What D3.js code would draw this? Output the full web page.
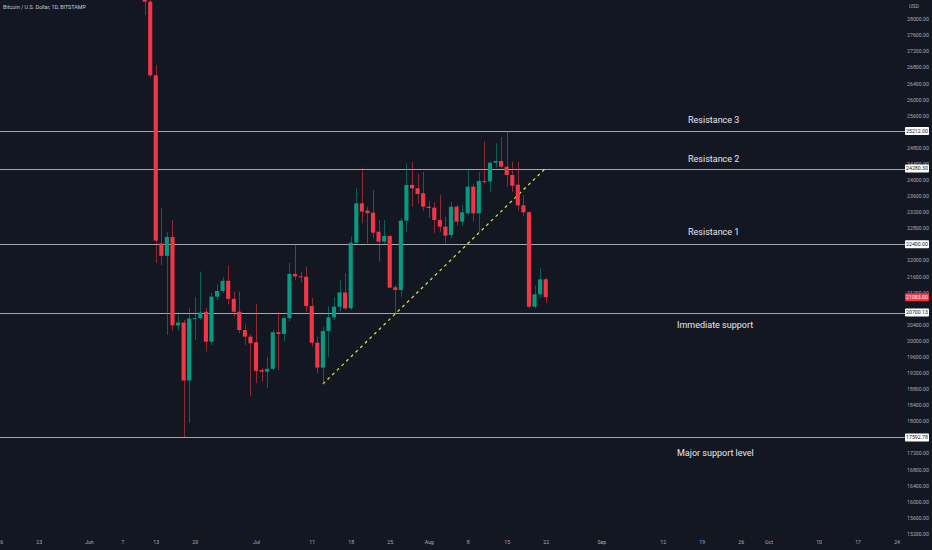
<!DOCTYPE html>
<html>
<head>
<meta charset="utf-8">
<script src="https://d3js.org/d3.v7.min.js"></script>
<style>
  html, body { margin: 0; padding: 0; background: #131722; overflow: hidden; }
  svg { display: block; }
  .tick text { font-family: Roboto, "Noto Sans", sans-serif; }
</style>
</head>
<body>
<div id="chart"></div>
<script>

// daily candles, Bitstamp BTC/USD
const dates = [
  "2022-06-11","2022-06-12","2022-06-13","2022-06-14","2022-06-15","2022-06-16","2022-06-17","2022-06-18",
  "2022-06-19","2022-06-20","2022-06-21","2022-06-22","2022-06-23","2022-06-24","2022-06-25","2022-06-26",
  "2022-06-27","2022-06-28","2022-06-29","2022-06-30","2022-07-01","2022-07-02","2022-07-03","2022-07-04",
  "2022-07-05","2022-07-06","2022-07-07","2022-07-08","2022-07-09","2022-07-10","2022-07-11","2022-07-12",
  "2022-07-13","2022-07-14","2022-07-15","2022-07-16","2022-07-17","2022-07-18","2022-07-19","2022-07-20",
  "2022-07-21","2022-07-22","2022-07-23","2022-07-24","2022-07-25","2022-07-26","2022-07-27","2022-07-28",
  "2022-07-29","2022-07-30","2022-07-31","2022-08-01","2022-08-02","2022-08-03","2022-08-04","2022-08-05",
  "2022-08-06","2022-08-07","2022-08-08","2022-08-09","2022-08-10","2022-08-11","2022-08-12","2022-08-13",
  "2022-08-14","2022-08-15","2022-08-16","2022-08-17","2022-08-18","2022-08-19","2022-08-20","2022-08-21",
  "2022-08-22"
];
const open = [
  29080,28430,26600,22420,22110,22580,20380,20450, 19010,20550,20560,20720,19975,21095,21236,21490,
  21040,20720,20266,20100,19960,19270,19230,19300, 20210,20170,20560,21660,21600,21590,20860,19950,
  19330,20240,20580,20845,21200,20806,22437,23417, 23234,23184,22710,22462,22604,21328,21261,22984,
  23873,23790,23666,23333,23308,23002,22836,22629, 23333,22960,23168,23830,23168,23972,23960,24427,
  24468,24327,24120,23879,23365,23193,20845,21154, 21527
];
const high = [
  29440,28550,26860,23300,22700,23000,20720,20520, 20810,21090,21720,20810,21190,21400,21590,21870,
  21220,21220,20400,20150,20910,19320,19600,20270, 20720,20600,21930,22380,21720,21840,21060,20100,
  20350,20850,21090,21510,21680,22590,23790,24310, 23330,23740,23000,23000,22630,21385,23045,24410,
  24450,24160,24200,23480,23450,23620,23080,23460, 23380,23380,24245,23900,24200,24950,24450,24910,
  25070,25212,24450,24450,23620,23220,21380,21800, 21560
];
const low = [
  28100,26560,21930,21880,20140,20250,20250,17600, 17950,20020,20520,19730,19890,21000,21190,20900,
  20600,20190,19890,18630,18940,18980,18820,19270, 19270,19975,20480,21500,21450,20720,19850,19190,
  18920,19600,20515,20720,20760,20760,22420,22920, 22420,22550,21965,22400,21300,20680,21094,22710,
  23330,23420,23220,23050,22680,22710,22420,22550, 22860,22850,23127,22960,22710,23900,23700,24300,
  24250,23830,23700,23230,23100,20800,20800,21070, 20930
];
const close = [
  28430,26600,22490,22110,22580,20380,20450,19010, 20550,20560,20700,19975,21095,21236,21490,21040,
  20720,20266,20100,19935,19250,19230,19300,20210, 20170,20560,21660,21600,21590,20860,19950,19330,
  20240,20580,20845,21200,20806,22437,23417,23210, 23170,22686,22462,22604,21318,21261,22984,23873,
  23790,23648,23333,23300,23002,22836,22612,23333, 22960,23193,23830,23168,23972,23960,24427,24468,
  24327,24120,23854,23365,23193,20845,21154,21527, 21083
];

// horizontal levels and their notes
const levelPrices = [25212.00, 24280.30, 22400.00, 20700.13, 17592.78];
const levelNotes  = ["Resistance 3", "Resistance 2", "Resistance 1", "Immediate support", "Major support level"];
const noteOffset  = [-8, -7, -9, 15, 19];
const lastPrice = 21083.00;

// dashed trend line
const trendDates  = ["2022-07-13", "2022-08-22"];
const trendPrices = [18923, 24290];

// axis labels
const xTickDates  = ["2022-05-16","2022-05-23","2022-06-01","2022-06-07","2022-06-13","2022-06-20","2022-07-01",
                     "2022-07-11","2022-07-18","2022-07-25","2022-08-01","2022-08-08","2022-08-15","2022-08-22",
                     "2022-09-01","2022-09-12","2022-09-19","2022-09-26","2022-10-01","2022-10-10","2022-10-17","2022-10-24"];
const xTickLabels = ["16","23","Jun","7","13","20","Jul","11","18","25","Aug","8","15","22",
                     "Sep","12","19","26","Oct","10","17","24"];
const yTicks = d3.range(15200, 28001, 400);

const W = 932, H = 550;
const plotRight = 905;
const bg = "#131722", up = "#089981", down = "#f23645";

const parse = d3.utcParse("%Y-%m-%d");
const candles = dates.map((d, i) => ({
  date: parse(d), o: open[i], h: high[i], l: low[i], c: close[i]
}));

const svg = d3.select("#chart").append("svg")
  .attr("width", W).attr("height", H);

svg.append("rect").attr("width", W).attr("height", H).attr("fill", bg);

const x = d3.scaleUtc()
  .domain([parse("2022-05-16"), parse("2022-10-24")])
  .range([-0.2, 896.6]);
const y = d3.scaleLinear()
  .domain([15200, 28000])
  .range([533.7, 19]);

const dayW = x(parse("2022-06-02")) - x(parse("2022-06-01"));
const bodyW = dayW * 0.74;

// header
svg.append("text")
  .attr("x", 3).attr("y", 8.6)
  .attr("fill", "#c9ccd4")
  .style("font-family", "Roboto, sans-serif")
  .style("font-size", "5.4px")
  .text("Bitcoin / U.S. Dollar, 1D, BITSTAMP");

// levels
const lv = svg.append("g");
lv.selectAll("line")
  .data(levelPrices)
  .join("line")
    .attr("x1", 0).attr("x2", plotRight)
    .attr("y1", d => Math.round(y(d)) + 0.5)
    .attr("y2", d => Math.round(y(d)) + 0.5)
    .attr("stroke", "#a3a6ae")
    .attr("stroke-width", 1);

lv.selectAll("text")
  .data(levelPrices)
  .join("text")
    .attr("x", (d, i) => i < 3 ? 688 : 677)
    .attr("y", (d, i) => y(d) + noteOffset[i])
    .attr("fill", "#e6e8ee")
    .style("font-family", "'Liberation Sans Narrow', Roboto, sans-serif")
    .style("font-size", "9px")
    .text((d, i) => levelNotes[i]);

// trend line
svg.append("line")
  .attr("x1", x(parse(trendDates[0]))).attr("y1", y(trendPrices[0]))
  .attr("x2", x(parse(trendDates[1]))).attr("y2", y(trendPrices[1]))
  .attr("stroke", "#e6e84a")
  .attr("stroke-width", 1.2)
  .attr("stroke-dasharray", "3,3.5");

// candles
const cg = svg.append("g");
cg.selectAll("line")
  .data(candles)
  .join("line")
    .attr("x1", d => Math.round(x(d.date)) + 0.5)
    .attr("x2", d => Math.round(x(d.date)) + 0.5)
    .attr("y1", d => y(d.h))
    .attr("y2", d => y(d.l))
    .attr("stroke", d => d.c >= d.o ? up : down)
    .attr("stroke-opacity", 0.55)
    .attr("stroke-width", 1);

cg.selectAll("rect")
  .data(candles)
  .join("rect")
    .attr("x", d => x(d.date) - bodyW / 2)
    .attr("width", bodyW)
    .attr("y", d => y(Math.max(d.o, d.c)))
    .attr("height", d => Math.max(1, Math.abs(y(d.o) - y(d.c))))
    .attr("fill", d => d.c >= d.o ? up : down);

// level price boxes (levels + last price)
const allBoxes = levelPrices.map(p => ({ p, fill: "#ffffff", txt: "#131722" }))
  .concat([{ p: lastPrice, fill: down, txt: "#ffffff" }]);

// price axis: like the platform, skip tick labels sitting under a box
const shownTicks = yTicks.filter(t => allBoxes.every(b => Math.abs(y(t) - y(b.p)) > 4.5));
const yAxis = svg.append("g")
  .attr("transform", `translate(918,0)`)
  .call(d3.axisRight(y).tickValues(shownTicks).tickSize(0).tickPadding(0).tickFormat(d3.format(".2f")));
yAxis.select(".domain").remove();
yAxis.selectAll("text")
  .attr("fill", "#a9acb5")
  .attr("text-anchor", "middle")
  .style("font-size", "5.2px");

svg.append("text")
  .attr("x", 909).attr("y", 7.6)
  .attr("fill", "#a9acb5")
  .style("font-family", "Roboto, sans-serif")
  .style("font-size", "5.2px")
  .text("USD");

const boxes = svg.append("g");
boxes.selectAll("rect")
  .data(allBoxes)
  .join("rect")
    .attr("x", 905).attr("width", 24)
    .attr("y", d => y(d.p) - 4).attr("height", 8)
    .attr("rx", 0.8)
    .attr("fill", d => d.fill);
boxes.selectAll("text")
  .data(allBoxes)
  .join("text")
    .attr("x", 917).attr("y", d => y(d.p) + 1.9)
    .attr("text-anchor", "middle")
    .attr("fill", d => d.txt)
    .style("font-family", "Roboto, sans-serif")
    .style("font-size", "5.2px")
    .text(d => d3.format(".2f")(d.p));

// time axis
const xAxis = svg.append("g")
  .attr("transform", `translate(0,540)`)
  .call(d3.axisBottom(x).tickValues(xTickDates.map(parse)).tickSize(0).tickPadding(0)
    .tickFormat((d, i) => xTickLabels[i]));
xAxis.select(".domain").remove();
xAxis.selectAll("text")
  .attr("fill", "#a9acb5")
  .style("font-size", "5.2px");

</script>
</body>
</html>
